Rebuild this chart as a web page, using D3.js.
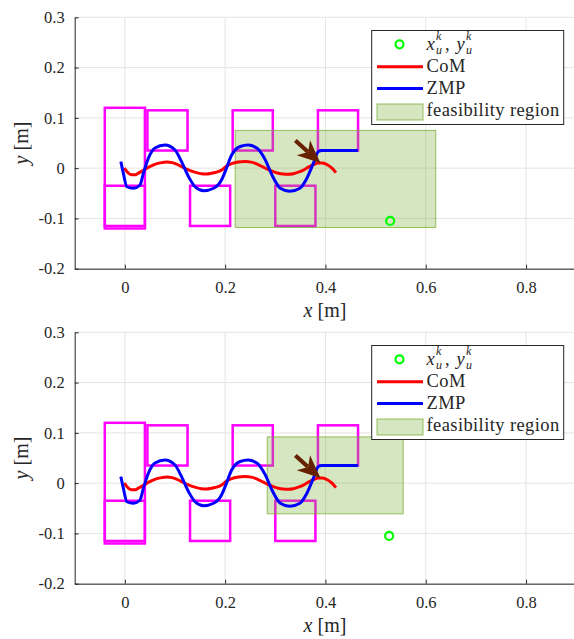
<!DOCTYPE html>
<html>
<head>
<meta charset="utf-8">
<script src="https://cdn.jsdelivr.net/npm/d3@7"></script>
<style>
body { margin: 0; background: #fff; }
svg text { font-family: "Liberation Serif", "DejaVu Serif", serif; fill: #262626; }
</style>
</head>
<body>
<svg id="chart" width="574" height="639"></svg>
<script>

// data (metres)
const xTicks = [0, 0.2, 0.4, 0.6, 0.8];
const yTicks = [-0.2, -0.1, 0, 0.1, 0.2, 0.3];

const comX = [-0.001, 0.007, 0.014, 0.021, 0.027, 0.036, 0.044, 0.054, 0.064, 0.074, 0.084, 0.094, 0.103, 0.113, 0.123, 0.133, 0.143, 0.153, 0.163, 0.173, 0.183, 0.194, 0.203, 0.213, 0.226, 0.240, 0.252, 0.266, 0.276, 0.286, 0.296, 0.306, 0.316, 0.326, 0.336, 0.346, 0.356, 0.366, 0.376, 0.386, 0.394, 0.401, 0.408, 0.414, 0.421];
const comY = [0.000, -0.010, -0.013, -0.013, -0.010, -0.005, 0.000, 0.005, 0.009, 0.011, 0.012, 0.011, 0.008, 0.003, -0.002, -0.006, -0.009, -0.011, -0.0115, -0.010, -0.008, -0.003, 0.004, 0.009, 0.012, 0.013, 0.012, 0.007, 0.002, -0.003, -0.007, -0.010, -0.0115, -0.012, -0.011, -0.008, -0.004, 0.002, 0.007, 0.010, 0.010, 0.008, 0.004, -0.001, -0.009];

const zmpX = [-0.008, -0.003, 0.004, 0.017, 0.030, 0.037, 0.047, 0.060, 0.080, 0.100, 0.113, 0.127, 0.140, 0.157, 0.177, 0.193, 0.200, 0.213, 0.230, 0.246, 0.263, 0.280, 0.293, 0.310, 0.329, 0.349, 0.363, 0.376, 0.386, 0.393, 0.465];
const zmpY = [0.013, -0.010, -0.037, -0.040, -0.034, -0.010, 0.020, 0.040, 0.046, 0.036, 0.013, -0.017, -0.037, -0.045, -0.040, -0.023, -0.007, 0.026, 0.043, 0.046, 0.040, 0.0165, -0.013, -0.040, -0.046, -0.040, -0.020, 0.010, 0.033, 0.035, 0.035];

// footsteps: [xmin, xmax, ymin, ymax]
const footsteps = [
	[-0.040, 0.040, -0.120, 0.120],
	[-0.040, 0.040, -0.115, -0.035],
	[0.045, 0.125, 0.035, 0.115],
	[0.130, 0.210, -0.115, -0.035],
	[0.215, 0.295, 0.035, 0.115],
	[0.300, 0.380, -0.115, -0.035],
	[0.385, 0.465, 0.035, 0.115]
];

// per panel: feasibility region, target point, arrow
const regions = [[0.220, 0.620, -0.118, 0.075], [0.284, 0.555, -0.061, 0.092]];
const targets = [[0.529, -0.105], [0.527, -0.105]];
const arrowTail = [0.340, 0.055];
const arrowTip = [0.390, 0.010];

// setup
const svg = d3.select("#chart");
const margin = {left: 74.7, top: 17.3};
const plotHeight = 251.4;
const panelOffset = 315;
const FONT = '"Liberation Serif", "DejaVu Serif", serif';

const xScale = d3.scaleLinear()
	.domain([-0.1, 0.9])
	.range([margin.left, 576.2]);

const yScale = d3.scaleLinear()
	.domain([-0.2, 0.3])
	.range([margin.top + plotHeight, margin.top]);

const comData = comX.map((x, i) => ({x: x, y: comY[i]}));
const zmpData = zmpX.map((x, i) => ({x: x, y: zmpY[i]}));

const line = d3.line()
	.x(d => xScale(d.x))
	.y(d => yScale(d.y))
	.curve(d3.curveMonotoneX);

function drawPanel(idx) {

	const g = svg.append("g")
		.attr("transform", `translate(0, ${idx * panelOffset})`);

	// grid
	g.append("g").selectAll("line")
	  .data(xTicks)
	  .enter().append("line")
		.attr("x1", d => xScale(d)).attr("x2", d => xScale(d))
		.attr("y1", yScale.range()[1]).attr("y2", yScale.range()[0])
		.attr("stroke", "#e4e4e4");

	g.append("g").selectAll("line")
	  .data(yTicks)
	  .enter().append("line")
		.attr("x1", xScale.range()[0]).attr("x2", xScale.range()[1])
		.attr("y1", d => yScale(d)).attr("y2", d => yScale(d))
		.attr("stroke", "#e4e4e4");

	// footsteps
	g.append("g").selectAll("rect")
	  .data(footsteps)
	  .enter().append("rect")
		.attr("x", d => xScale(d[0]))
		.attr("y", d => yScale(d[3]))
		.attr("width", d => xScale(d[1]) - xScale(d[0]))
		.attr("height", d => yScale(d[2]) - yScale(d[3]))
		.attr("fill", "none")
		.attr("stroke", "#ff00ff")
		.attr("stroke-width", 2.5);

	// feasibility region
	const r = regions[idx];
	g.append("rect")
		.attr("x", xScale(r[0]))
		.attr("y", yScale(r[3]))
		.attr("width", xScale(r[1]) - xScale(r[0]))
		.attr("height", yScale(r[2]) - yScale(r[3]))
		.attr("fill", "#77ac30")
		.attr("fill-opacity", 0.3)
		.attr("stroke", "#77ac30")
		.attr("stroke-opacity", 0.75)
		.attr("stroke-width", 1);

	// CoM and ZMP
	g.append("path")
	  .datum(comData)
		.attr("fill", "none")
		.attr("stroke", "#ff0000")
		.attr("stroke-width", 3)
		.attr("d", line);

	g.append("path")
	  .datum(zmpData)
		.attr("fill", "none")
		.attr("stroke", "#0000ff")
		.attr("stroke-width", 3)
		.attr("stroke-linejoin", "round")
		.attr("d", line);

	// arrow
	const tx = xScale(arrowTail[0]), ty = yScale(arrowTail[1]);
	const hx = xScale(arrowTip[0]), hy = yScale(arrowTip[1]);
	const len = Math.hypot(hx - tx, hy - ty);
	const ux = (hx - tx) / len, uy = (hy - ty) / len;
	const px = -uy, py = ux;
	const headLen = 23, headW = 10;
	const bx = hx - ux * headLen, by = hy - uy * headLen;

	g.append("line")
		.attr("x1", tx).attr("y1", ty)
		.attr("x2", bx + ux * 6).attr("y2", by + uy * 6)
		.attr("stroke", "#662200")
		.attr("stroke-width", 4.2);

	g.append("polygon")
		.attr("points", [
			[hx, hy],
			[bx + px * headW, by + py * headW],
			[hx - ux * headLen * 0.72, hy - uy * headLen * 0.72],
			[bx - px * headW, by - py * headW]
		].map(p => p.join(",")).join(" "))
		.attr("fill", "#662200");

	// target point
	g.append("circle")
		.attr("cx", xScale(targets[idx][0]))
		.attr("cy", yScale(targets[idx][1]))
		.attr("r", 4)
		.attr("fill", "none")
		.attr("stroke", "#00ff00")
		.attr("stroke-width", 2.2);

	// axes
	const xAxis = g.append("g")
		.attr("transform", `translate(0, ${yScale.range()[0]})`)
		.call(d3.axisBottom(xScale)
			.tickValues(xTicks)
			.tickFormat(d => String(d))
			.tickSizeInner(-4)
			.tickSizeOuter(0)
			.tickPadding(13));

	const yAxis = g.append("g")
		.attr("transform", `translate(${xScale.range()[0]}, 0)`)
		.call(d3.axisLeft(yScale)
			.tickValues(yTicks)
			.tickFormat(d => String(d))
			.tickSizeInner(-4)
			.tickSizeOuter(0)
			.tickPadding(10));

	[xAxis, yAxis].forEach(a => {
		a.attr("font-family", null).attr("font-size", null);
		a.select(".domain").attr("stroke", "#262626");
		a.selectAll(".tick line").attr("stroke", "#262626");
		a.selectAll(".tick text")
			.style("font-family", FONT)
			.style("font-size", "16.5px")
			.attr("fill", "#262626");
	});

	// axis labels
	const xLabel = g.append("text")
		.attr("x", 325)
		.attr("y", 317)
		.attr("text-anchor", "middle")
		.style("font-family", FONT)
		.style("font-size", "20px");
	xLabel.append("tspan").attr("font-style", "italic").text("x");
	xLabel.append("tspan").text(" [m]");

	const yLabel = g.append("text")
		.attr("transform", "translate(28, 143) rotate(-90)")
		.attr("text-anchor", "middle")
		.style("font-family", FONT)
		.style("font-size", "20px");
	yLabel.append("tspan").attr("font-style", "italic").text("y");
	yLabel.append("tspan").text(" [m]");

	// legend
	const lg = g.append("g")
		.style("font-family", FONT);

	lg.append("rect")
		.attr("x", 371.7).attr("y", 30.5)
		.attr("width", 192).attr("height", 94)
		.attr("fill", "#fff")
		.attr("stroke", "#262626")
		.attr("stroke-width", 1);

	lg.append("circle")
		.attr("cx", 399.5).attr("cy", 44.3).attr("r", 4)
		.attr("fill", "none").attr("stroke", "#00ff00").attr("stroke-width", 2.2);

	// x_u^k, y_u^k as one text with stacked sub/superscripts
	const mt = lg.append("text").attr("x", 426.5).attr("y", 50)
		.style("font-size", "18.5px");
	[[426.5, "x"], [456.5, "y"]].forEach(([x0, s], i) => {
		mt.append("tspan").attr("x", x0).attr("y", 50).attr("font-style", "italic").text(s);
		mt.append("tspan").attr("x", x0 + 9.5).attr("y", 40)
			.attr("font-style", "italic").style("font-size", "12px").text("k");
		mt.append("tspan").attr("x", x0 + 9.5).attr("y", 53.5)
			.attr("font-style", "italic").style("font-size", "12px").text("u");
		if (i === 0) mt.append("tspan").attr("x", 445).attr("y", 50).text(",");
	});

	lg.append("line")
		.attr("x1", 377).attr("x2", 423).attr("y1", 66.7).attr("y2", 66.7)
		.attr("stroke", "#ff0000").attr("stroke-width", 3);
	lg.append("text").attr("x", 426.5).attr("y", 72)
		.style("font-size", "18.5px").style("letter-spacing", "0.4px").text("CoM");

	lg.append("line")
		.attr("x1", 377).attr("x2", 423).attr("y1", 88.5).attr("y2", 88.5)
		.attr("stroke", "#0000ff").attr("stroke-width", 3);
	lg.append("text").attr("x", 426.5).attr("y", 94)
		.style("font-size", "18.5px").style("letter-spacing", "0.4px").text("ZMP");

	lg.append("rect")
		.attr("x", 377).attr("y", 104)
		.attr("width", 46).attr("height", 16)
		.attr("fill", "#77ac30").attr("fill-opacity", 0.3)
		.attr("stroke", "#77ac30").attr("stroke-opacity", 0.75);
	lg.append("text").attr("x", 426.5).attr("y", 116)
		.style("font-size", "18.5px").style("letter-spacing", "0.4px").text("feasibility region");
}

drawPanel(0);
drawPanel(1);

</script>
</body>
</html>
